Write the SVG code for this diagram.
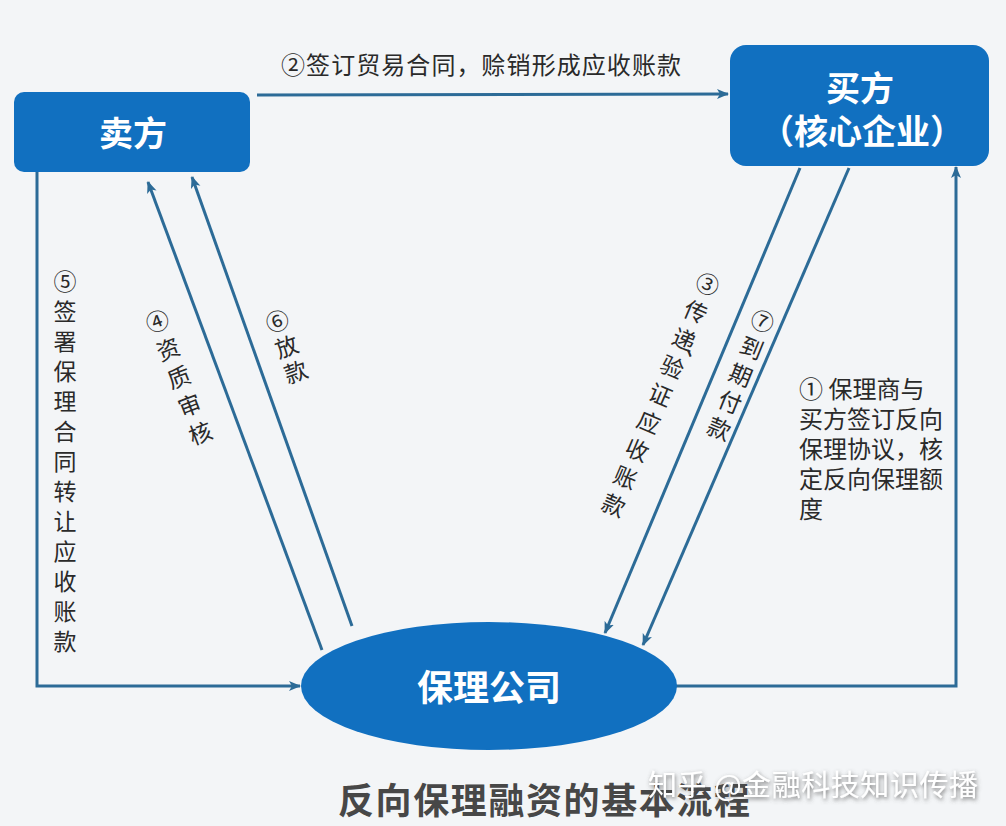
<svg xmlns="http://www.w3.org/2000/svg" width="1006" height="826" viewBox="0 0 1006 826">
<defs>
<style>
.node{fill:#1170c0;}
.ntxt{fill:#ffffff;font-family:"Noto Sans CJK SC","Noto Sans",sans-serif;font-weight:bold;font-size:34px;text-anchor:middle;dominant-baseline:central;}
.conn{fill:none;stroke:#2c6b97;stroke-width:3;}
.lbl{fill:#2a2a2a;font-family:"Noto Sans CJK SC","Noto Sans",sans-serif;font-size:23px;}
.vl{text-anchor:middle;dominant-baseline:central;}
.title{fill:#474747;font-family:"Noto Sans CJK SC","Noto Sans",sans-serif;font-weight:bold;font-size:36px;dominant-baseline:central;}
.wm{fill:#ffffff;font-family:"Noto Sans CJK SC","Noto Sans",sans-serif;font-size:29px;dominant-baseline:central;}
</style>
<marker id="ah" viewBox="0 0 12 12" refX="11" refY="6" markerWidth="12" markerHeight="12" markerUnits="userSpaceOnUse" orient="auto">
<path d="M0,1 L12,6 L0,11 L3,6 Z" fill="#2c6b97"/>
</marker>
<filter id="sh" x="-10%" y="-40%" width="120%" height="180%">
<feDropShadow dx="1" dy="2" stdDeviation="2" flood-color="#555555" flood-opacity="0.8"/>
</filter>
</defs>
<rect x="0" y="0" width="1006" height="826" fill="#f3f5f7"/>

<g id="connectors">
<path class="conn" d="M257,95 L728,94" marker-end="url(#ah)"/>
<path class="conn" d="M37,172 L37,686 L300,686" marker-end="url(#ah)"/>
<path class="conn" d="M322,650 L148,182" marker-end="url(#ah)"/>
<path class="conn" d="M352,626 L192,177" marker-end="url(#ah)"/>
<path class="conn" d="M800,168 L605,633" marker-end="url(#ah)"/>
<path class="conn" d="M849,168 L643,645" marker-end="url(#ah)"/>
<path class="conn" d="M676,686 L956,686 L956,167" marker-end="url(#ah)"/>
</g>

<g id="seller">
<rect class="node" x="14" y="92" width="236" height="80" rx="10"/>
<text class="ntxt" x="133" y="131">卖方</text>
</g>

<g id="buyer">
<rect class="node" x="730" y="45" width="259" height="121" rx="16"/>
<text class="ntxt" x="860" y="86">买方</text>
<text class="ntxt" x="862" y="129">（核心企业）</text>
</g>

<g id="factor">
<ellipse class="node" cx="489" cy="686" rx="188" ry="64"/>
<text class="ntxt" x="489" y="685" style="font-size:36px">保理公司</text>
</g>

<g id="labels">
<text class="lbl" x="281" y="63" textLength="400" lengthAdjust="spacing" style="font-size:24px;dominant-baseline:central">②签订贸易合同，赊销形成应收账款</text>

<text class="lbl vl" x="65" y="280">⑤<tspan x="65" y="310">签</tspan><tspan x="65" y="340">署</tspan><tspan x="65" y="370">保</tspan><tspan x="65" y="400">理</tspan><tspan x="65" y="430">合</tspan><tspan x="65" y="460">同</tspan><tspan x="65" y="490">转</tspan><tspan x="65" y="520">让</tspan><tspan x="65" y="550">应</tspan><tspan x="65" y="580">收</tspan><tspan x="65" y="610">账</tspan><tspan x="65" y="640">款</tspan></text>

<text class="lbl vl" transform="translate(157,320) rotate(-21)" x="0" y="0">④<tspan x="0" y="30">资</tspan><tspan x="0" y="60">质</tspan><tspan x="0" y="90">审</tspan><tspan x="0" y="120">核</tspan></text>

<text class="lbl vl" transform="translate(277,320) rotate(-20)" x="0" y="0">⑥<tspan x="0" y="27">放</tspan><tspan x="0" y="54">款</tspan></text>

<text class="lbl vl" transform="translate(708,283) rotate(23)" x="0" y="0">③<tspan x="0" y="30">传</tspan><tspan x="0" y="60">递</tspan><tspan x="17" y="64">、</tspan><tspan x="0" y="90">验</tspan><tspan x="0" y="120">证</tspan><tspan x="0" y="150">应</tspan><tspan x="0" y="180">收</tspan><tspan x="0" y="210">账</tspan><tspan x="0" y="240">款</tspan></text>

<text class="lbl vl" transform="translate(763,320) rotate(22)" x="0" y="0">⑦<tspan x="0" y="29">到</tspan><tspan x="0" y="58">期</tspan><tspan x="0" y="87">付</tspan><tspan x="0" y="116">款</tspan></text>

<text class="lbl" style="font-size:24px;dominant-baseline:central" x="799" y="387">① 保理商与<tspan x="799" y="417">买方签订反向</tspan><tspan x="799" y="447">保理协议，核</tspan><tspan x="799" y="477">定反向保理额</tspan><tspan x="799" y="507">度</tspan></text>
</g>

<text class="title" x="338" y="798" textLength="412" lengthAdjust="spacing">反向保理融资的基本流程</text>
<text class="wm" x="648" y="783" textLength="330" lengthAdjust="spacing" filter="url(#sh)">知乎 @金融科技知识传播</text>
</svg>
